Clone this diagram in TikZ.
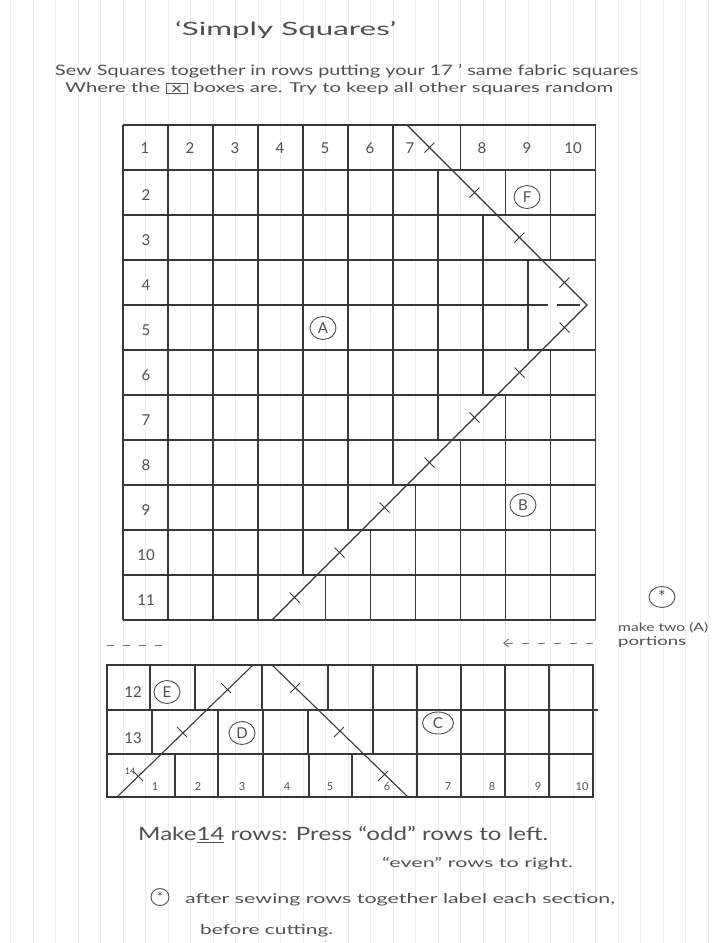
\documentclass[tikz,border=0pt]{standalone}
\usepackage{fontspec}
\setmainfont{Lato}
\usetikzlibrary{arrows.meta,shapes.geometric}
\definecolor{ink}{HTML}{383838}
\definecolor{pencil}{HTML}{505050}
\newcommand\hwfit[3]{\resizebox{#1}{#2}{#3}}
\tikzset{
  paperline/.style={draw=black!7, line width=0.6pt},
  gridline/.style={draw=ink, line width=1.1pt},
  diag/.style={draw=ink, line width=1.1pt},
  tickmark/.style={draw=ink, line width=1.0pt},
  lab/.style={text=pencil, font=\fontsize{15}{15}\selectfont, inner sep=0pt},
  smalllab/.style={text=pencil, font=\fontsize{11}{11}\selectfont, inner sep=0pt},
  handtext/.style={text=pencil, inner sep=0pt, anchor=base west},
  circled/.style={draw=pencil, line width=0.9pt, ellipse, inner sep=0pt,
    minimum width=26pt, minimum height=23pt, text=pencil, font=\fontsize{15}{15}\selectfont},
  starmark/.style={draw=pencil, line width=0.9pt, ellipse, inner sep=0pt,
    text=pencil, font=\fontsize{18}{18}\selectfont},
  dashmark/.style={draw=ink!70, line width=1pt, dash pattern=on 7pt off 9pt}
}
\begin{document}
\begin{tikzpicture}[x=1pt,y=-1pt]
\useasboundingbox[fill=white] (0,0) rectangle (719,943);

% faint ruling of the graph paper
\foreach \n in {0,...,31} {
  \pgfmathsetmacro\xp{10.5+22.5*\n}
  \draw[paperline] (\xp,0) -- (\xp,943);
}

% ---------- texts at the top ----------
\node[handtext] (title) at (175,35) {\hwfit{221pt}{14pt}{‘Simply Squares’}};
\node[handtext] (line2) at (55,75) {\hwfit{583pt}{11pt}{Sew Squares together in rows putting your 17 ’ same fabric squares}};
\node[handtext] (line3) at (65,92) {\hwfit{548pt}{10pt}{Where the {\setlength\fboxsep{1pt}\fbox{\,x\,}} boxes are. Try to keep all other squares random}};

% ---------- top grid: 11 rows ----------
\foreach \i in {0,...,11} {
  \pgfmathsetmacro\yy{125+45*\i}
  \ifnum\i=4
    \draw[gridline] (123,\yy) -- (548,\yy);
    \draw[gridline] (557,\yy) -- (580,\yy);
  \else
    \draw[gridline] (123,\yy) -- (595.5,\yy);
  \fi
}
\draw[gridline] (123,125) -- (123,620);
\draw[gridline] (595.5,125) -- (595.5,620);
\foreach \r/\k/\m in {1/6/7, 2/7/9, 3/8/9, 4/9/9, 5/9/9, 6/8/9, 7/7/9, 8/6/9, 9/5/9, 10/4/9, 11/3/9} {
  \pgfmathsetmacro\yt{125+45*(\r-1)}
  \pgfmathsetmacro\yb{\yt+45}
  \foreach \j in {1,...,\m} {
    \pgfmathsetmacro\xx{123+45*\j+22.5*(\j>\k)}
    \draw[gridline] (\xx,\yt) -- (\xx,\yb);
  }
}

% diagonal chevron
\coordinate (dtop) at (407,125);
\coordinate (dapex) at (587,305);
\coordinate (dbot) at (272,620);
\draw[diag] (dtop) -- (dapex) -- (dbot);
\foreach \r in {1,...,4} {
  \pgfmathsetmacro\yc{147.5+45*(\r-1)}
  \pgfmathsetmacro\xc{407+\yc-125}
  \draw[tickmark] (\xc-5,\yc+5) -- (\xc+5,\yc-5);
}
\foreach \r in {5,...,11} {
  \pgfmathsetmacro\yc{147.5+45*(\r-1)}
  \pgfmathsetmacro\xc{587-(\yc-305)}
  \draw[tickmark] (\xc-5,\yc-5) -- (\xc+5,\yc+5);
}

% row 1 column numbers
\foreach \n/\x in {1/145, 2/190, 3/235, 4/280, 5/325, 6/370, 7/410, 8/482, 9/527, 10/573} {
  \node[lab] (c\n) at (\x,148) {\n};
}
% row numbers
\foreach \n in {2,...,11} {
  \pgfmathsetmacro\yc{150.5+45*(\n-1)}
  \node[lab] (r\n) at (146,\yc) {\n};
}
% circled section letters
\node[circled] (F) at (527,197) {F};
\node[circled] (A) at (323,328) {A};
\node[circled] (B) at (523,505) {B};

% ---------- between the grids ----------
\coordinate (lda) at (107,645);
\coordinate (ldb) at (168,645);
\draw[dashmark] (lda) -- (ldb);
\coordinate (rda) at (593,643);
\coordinate (rdb) at (503,643);
\draw[dashmark, -{Straight Barb[length=5pt,width=8pt]}] (rda) -- (rdb);

% right note
\node[starmark, minimum width=26pt, minimum height=21pt] (star1) at (662,597) {\raisebox{-5pt}{*}};
\node[handtext] (note1) at (618,631) {\hwfit{90pt}{9pt}{make two (A)}};
\node[handtext] (note2) at (618,645) {\hwfit{68pt}{9pt}{portions}};

% ---------- bottom grid: rows 12-14 ----------
\draw[gridline] (107,665) rectangle (593,797);
\draw[gridline] (107,710) -- (598,710);
\draw[gridline] (107,754) -- (593,754);
\foreach \x in {150,195,262,328,373,417,461,505,549} \draw[gridline] (\x,665) -- (\x,710);
\foreach \x in {152,218,263,308,373,417,461,505,549} \draw[gridline] (\x,710) -- (\x,754);
\foreach \x in {175,218,263,309,352,417,461,505,549} \draw[gridline] (\x,754) -- (\x,797);

\coordinate (ba) at (117,797);
\coordinate (bb) at (253,665);
\coordinate (bc) at (272,665);
\coordinate (bd) at (408,797);
\draw[diag] (ba) -- (bb);
\draw[diag] (bc) -- (bd);
\foreach \x/\y in {138/776, 182/732, 226/688} \draw[tickmark] (\x-5,\y-5) -- (\x+5,\y+5);
\foreach \x/\y in {295/688, 339/732, 383/776} \draw[tickmark] (\x-5,\y+5) -- (\x+5,\y-5);

\node[lab] (r12) at (133,692) {12};
\node[lab] (r13) at (133,738) {13};
\node[smalllab, font=\fontsize{9}{9}\selectfont] (r14) at (130,771) {14};
\foreach \n/\x in {1/155, 2/198, 3/242, 4/287, 5/330, 6/387, 7/448, 8/492, 9/538, 10/582} {
  \node[smalllab] (b\n) at (\x,787) {\n};
}
\node[circled] (E) at (167,692) {E};
\node[circled] (D) at (242,733) {D};
\node[circled, minimum width=31pt, minimum height=22pt] (C) at (438,723) {C};

% ---------- bottom notes ----------
\node[handtext] (make) at (138,840) {\hwfit{410pt}{14pt}{Make\underline{14} rows: Press “odd” rows to left.}};
\node[handtext] (even) at (382,867) {\hwfit{191pt}{10pt}{“even” rows to right.}};
\node[starmark, minimum width=18pt, minimum height=17pt, font=\fontsize{14}{14}\selectfont] (star2) at (160,897) {\raisebox{-4pt}{*}};
\node[handtext] (after) at (185,903) {\hwfit{430pt}{10pt}{after sewing rows together label each section,}};
\node[handtext] (before) at (200,934) {\hwfit{133pt}{10pt}{before cutting.}};
\end{tikzpicture}
\end{document}
